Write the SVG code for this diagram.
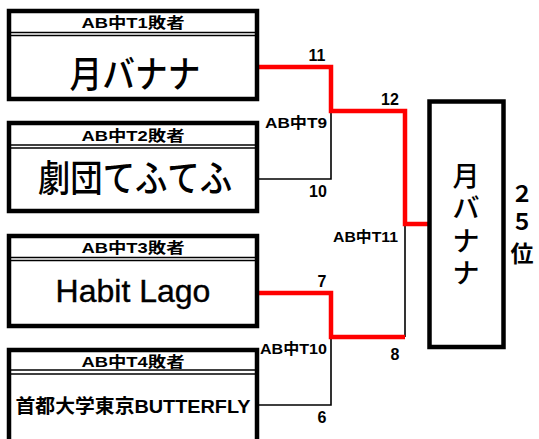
<svg xmlns="http://www.w3.org/2000/svg" width="539" height="439" viewBox="0 0 539 439">
<style>
text{font-family:"Liberation Sans","Noto Sans CJK JP",sans-serif;fill:#000}
.box{fill:#fff;stroke:#000;stroke-width:4.5}
.hl{stroke:#000;stroke-width:1.6;fill:none}
.hdr{font-size:15px;font-weight:bold;text-anchor:middle}
.name{font-size:37px;font-weight:500;text-anchor:middle}
.vt{font-size:27px;font-weight:500;text-anchor:middle}
.lbl{font-size:15px;font-weight:bold}
.num{font-size:16px;font-weight:bold;text-anchor:middle}
.red{stroke:#ff0000;stroke-width:4.5;fill:none;stroke-linejoin:miter}
.blk{stroke:#000;stroke-width:1.6;fill:none}
</style>
<rect width="539" height="439" fill="#fff"/>
<g id="connectors">
<polyline class="blk" points="257,179 331,179 331,111"/>
<polyline class="blk" points="257,405 331,405 331,337"/>
<polyline class="blk" points="405,337 405,224"/>
<polyline class="red" points="257,67 331,67 331,111 405,111 405,224 429,224"/>
<polyline class="red" points="257,293 331,293 331,337 405,337"/>
</g>
<g id="node1">
<rect class="box" x="9" y="11" width="248" height="88"/>
<line class="hl" x1="11" y1="32.5" x2="255" y2="32.5"/>
<line class="hl" x1="11" y1="35.5" x2="255" y2="35.5"/>
<text class="hdr" x="133" y="28" textLength="103" lengthAdjust="spacingAndGlyphs">AB中T1敗者</text>
<text class="name" x="135" y="88" textLength="131" lengthAdjust="spacingAndGlyphs">月バナナ</text>
</g>
<g id="node2">
<rect class="box" x="9" y="123" width="248" height="88"/>
<line class="hl" x1="11" y1="145" x2="255" y2="145"/>
<line class="hl" x1="11" y1="148" x2="255" y2="148"/>
<text class="hdr" x="133" y="141" textLength="103" lengthAdjust="spacingAndGlyphs">AB中T2敗者</text>
<text class="name" x="135" y="192" textLength="194" lengthAdjust="spacingAndGlyphs">劇団てふてふ</text>
</g>
<g id="node3">
<rect class="box" x="9" y="236" width="248" height="90"/>
<line class="hl" x1="11" y1="257.5" x2="255" y2="257.5"/>
<line class="hl" x1="11" y1="260.5" x2="255" y2="260.5"/>
<text class="hdr" x="133" y="253" textLength="103" lengthAdjust="spacingAndGlyphs">AB中T3敗者</text>
<text x="133" y="302" font-size="32" text-anchor="middle" style="stroke:#000;stroke-width:0.4">Habit Lago</text>
</g>
<g id="node4">
<path class="box" d="M9,445 L9,350 L257,350 L257,445"/>
<line class="hl" x1="11" y1="370" x2="255" y2="370"/>
<line class="hl" x1="11" y1="374" x2="255" y2="374"/>
<text class="hdr" x="133" y="367" textLength="103" lengthAdjust="spacingAndGlyphs">AB中T4敗者</text>
<text x="133" y="413" font-size="19" font-weight="bold" text-anchor="middle" textLength="235" lengthAdjust="spacingAndGlyphs">首都大学東京BUTTERFLY</text>
</g>
<g id="winner">
<rect class="box" x="429.5" y="101.5" width="74" height="245.5"/>
<text class="vt" x="466" y="186">月</text>
<text class="vt" x="466" y="218">バ</text>
<text class="vt" x="466" y="251">ナ</text>
<text class="vt" x="466" y="283">ナ</text>
</g>
<g id="rank">
<text x="522" y="202" font-size="22" font-weight="bold" text-anchor="middle">２</text>
<text x="522" y="230" font-size="22" font-weight="bold" text-anchor="middle">５</text>
<text x="522" y="262" font-size="23" font-weight="bold" text-anchor="middle">位</text>
</g>
<g id="labels">
<text class="num" x="317" y="61">11</text>
<text class="num" x="390" y="105">12</text>
<text class="lbl" x="265" y="128" textLength="62" lengthAdjust="spacingAndGlyphs">AB中T9</text>
<text class="num" x="318" y="197">10</text>
<text class="lbl" x="333" y="242" textLength="65" lengthAdjust="spacingAndGlyphs">AB中T11</text>
<text class="num" x="322" y="287">7</text>
<text class="lbl" x="260" y="354" textLength="67" lengthAdjust="spacingAndGlyphs">AB中T10</text>
<text class="num" x="395" y="360">8</text>
<text class="num" x="322" y="423">6</text>
</g>
</svg>
